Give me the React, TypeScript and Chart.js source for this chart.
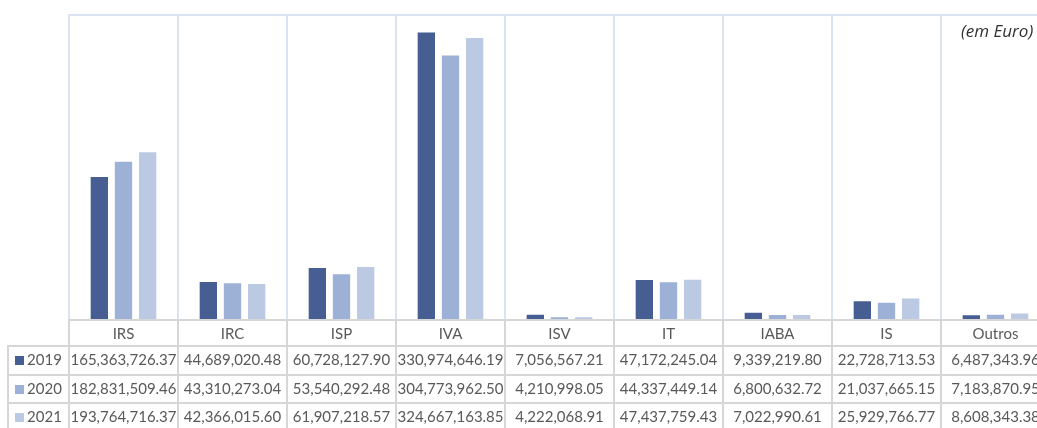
import React, { useEffect, useRef } from "react";
import { Chart, registerables } from "chart.js";

Chart.register(...registerables);

const categories = ["IRS", "IRC", "ISP", "IVA", "ISV", "IT", "IABA", "IS", "Outros"];
const years = ["2019", "2020", "2021"];
const values2019 = [165363726.37, 44689020.48, 60728127.9, 330974646.19, 7056567.21, 47172245.04, 9339219.8, 22728713.53, 6487343.96];
const values2020 = [182831509.46, 43310273.04, 53540292.48, 304773962.5, 4210998.05, 44337449.14, 6800632.72, 21037665.15, 7183870.95];
const values2021 = [193764716.37, 42366015.6, 61907218.57, 324667163.85, 4222068.91, 47437759.43, 7022990.61, 25929766.77, 8608343.38];
const seriesColors = ["#475E92", "#9DB0D5", "#BBC9E2"];
const unitNote = "(em Euro)";

const FONT = "Lato, 'Open Sans', sans-serif";
const NOTE_FONT = "'Open Sans', Lato, sans-serif";
const TEXT_COLOR = "#595959";
const GRID_COLOR = "#DAE3F1";
const TABLE_COLOR = "#D6D6D6";

const fmt = (v: number) =>
  v.toLocaleString("en-US", { minimumFractionDigits: 2, maximumFractionDigits: 2 });

// Grid lines behind the bars and the data table underneath the plot
const tablePlugin = {
  id: "dataTable",
  beforeDatasetsDraw(chart: any) {
    const { ctx, chartArea } = chart;
    const x = chart.scales.x;
    const n = categories.length;
    const step = (chartArea.right - chartArea.left) / n;
    ctx.save();
    ctx.strokeStyle = GRID_COLOR;
    ctx.lineWidth = 2;
    ctx.beginPath();
    ctx.moveTo(chartArea.left - 1, chartArea.top);
    ctx.lineTo(chartArea.right + 1, chartArea.top);
    for (let i = 0; i <= n; i++) {
      const px = x.getPixelForValue(i) - step / 2;
      ctx.moveTo(px, chartArea.top);
      ctx.lineTo(px, chartArea.bottom);
    }
    ctx.stroke();
    ctx.restore();
  },
  afterDraw(chart: any) {
    const { ctx, chartArea } = chart;
    const x = chart.scales.x;
    const n = categories.length;
    const step = (chartArea.right - chartArea.left) / n;
    const tableLeft = 8;
    const rowH = [26, 29, 28, 28];
    const rowTops: number[] = [];
    let y = chartArea.bottom;
    for (let r = 0; r < rowH.length; r++) {
      rowTops.push(y);
      y += rowH[r];
    }
    const bottom = y;

    ctx.save();
    ctx.strokeStyle = TABLE_COLOR;
    ctx.lineWidth = 2;
    ctx.beginPath();
    // horizontal rules
    ctx.moveTo(chartArea.left - 1, rowTops[0]);
    ctx.lineTo(chartArea.right + 1, rowTops[0]);
    for (let r = 1; r < rowTops.length; r++) {
      ctx.moveTo(tableLeft - 1, rowTops[r]);
      ctx.lineTo(chartArea.right + 1, rowTops[r]);
    }
    // vertical rules
    ctx.moveTo(tableLeft, rowTops[1]);
    ctx.lineTo(tableLeft, bottom);
    for (let i = 0; i <= n; i++) {
      const px = x.getPixelForValue(i) - step / 2;
      ctx.moveTo(px, rowTops[0]);
      ctx.lineTo(px, bottom);
    }
    ctx.stroke();

    ctx.fillStyle = TEXT_COLOR;
    ctx.font = `15px ${FONT}`;
    ctx.textAlign = "center";
    ctx.textBaseline = "middle";
    categories.forEach((c, i) => {
      ctx.fillText(c, x.getPixelForValue(i), rowTops[0] + rowH[0] / 2 + 1);
    });
    const allValues = [values2019, values2020, values2021];
    allValues.forEach((vals, s) => {
      const cy = rowTops[s + 1] + rowH[s + 1] / 2;
      vals.forEach((v, i) => {
        ctx.fillText(fmt(v), x.getPixelForValue(i), cy);
      });
      // legend key + year in the first column
      const label = years[s];
      const tw = ctx.measureText(label).width;
      const key = 9;
      const gap = 3;
      const cellCenter = (tableLeft + chartArea.left) / 2;
      const start = cellCenter - (key + gap + tw) / 2;
      ctx.fillStyle = seriesColors[s];
      ctx.fillRect(Math.round(start), Math.round(cy - key / 2), key, key);
      ctx.fillStyle = TEXT_COLOR;
      ctx.textAlign = "left";
      ctx.fillText(label, start + key + gap, cy);
      ctx.textAlign = "center";
    });

    ctx.fillStyle = "#303030";
    ctx.font = `italic 17px ${NOTE_FONT}`;
    ctx.textAlign = "left";
    ctx.fillText(unitNote, 961, 32);
    ctx.restore();
  },
};

export default function App() {
  const ref = useRef<HTMLCanvasElement | null>(null);

  useEffect(() => {
    if (!ref.current) return;
    const chart = new Chart(ref.current, {
      type: "bar",
      data: {
        labels: categories,
        datasets: [values2019, values2020, values2021].map((vals, s) => ({
          label: years[s],
          data: vals,
          backgroundColor: seriesColors[s],
          borderColor: "rgba(255,255,255,0.5)",
          borderWidth: 1,
          categoryPercentage: 0.665,
          barPercentage: 0.8,
        })),
      },
      options: {
        responsive: false,
        animation: false,
        layout: { padding: { left: 69, right: 10, top: 15, bottom: 108 } },
        plugins: {
          legend: { display: false },
          tooltip: { enabled: false },
          title: { display: false },
        },
        scales: {
          x: { display: false },
          y: { display: false, min: 0, max: 350000000 },
        },
      },
      plugins: [tablePlugin],
    });
    return () => chart.destroy();
  }, []);

  return (
    <div
      style={{
        position: "fixed",
        left: 0,
        top: 0,
        width: 1037,
        height: 428,
        overflow: "hidden",
        background: "#fff",
      }}
    >
      <canvas ref={ref} width={1060} height={428} style={{ position: "absolute", left: 0, top: 0 }} />
    </div>
  );
}
